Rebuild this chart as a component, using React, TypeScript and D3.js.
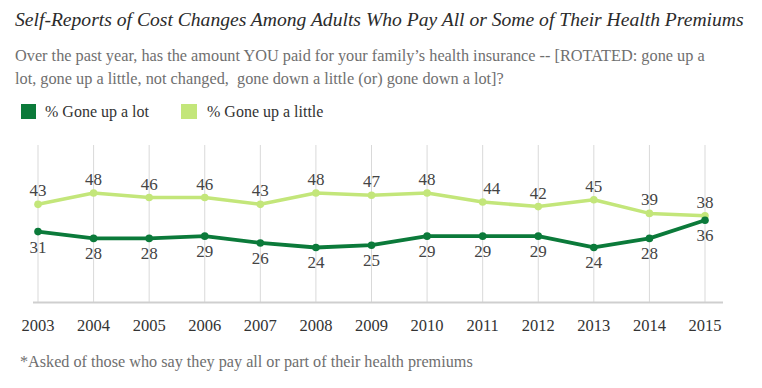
import React from "react";
import * as d3 from "d3";

const years = ["2003","2004","2005","2006","2007","2008","2009","2010","2011","2012","2013","2014","2015"];
const goneUpALot = [31,28,28,29,26,24,25,29,29,29,24,28,36];
const goneUpALittle = [43,48,46,46,43,48,47,48,44,42,45,39,38];
const seriesNames = ["% Gone up a lot", "% Gone up a little"];
const title = "Self-Reports of Cost Changes Among Adults Who Pay All or Some of Their Health Premiums";
const subtitleLines = [
  "Over the past year, has the amount YOU paid for your family\u2019s health insurance -- [ROTATED: gone up a",
  "lot, gone up a little, not changed,  gone down a little (or) gone down a lot]?",
];
const footnote = "*Asked of those who say they pay all or part of their health premiums";

const DARK = "#0b7a3a";
const LIGHT = "#c3e67a";
const F = { fontFamily: "Liberation Serif", whiteSpace: "pre" as const };

export default function App() {
  const W = 762, H = 388;
  const x = d3.scalePoint<string>().domain(years).range([38, 705]);
  const y = d3.scaleLinear().domain([0, 70]).range([302, 143]);
  const line = d3.line<number>().x((_, i) => x(years[i])!).y((d) => y(d));

  return (
    <svg width={W} height={H} style={{ position: "absolute", left: 0, top: 0, background: "#fff" }}>
      <text x={15} y={26} fontSize={19.6} style={{ ...F, fontStyle: "italic" }} fill="#2b2b2b">{title}</text>
      {subtitleLines.map((s, i) => (
        <text key={i} x={15} y={61 + i * 23} fontSize={16.3} fill="#6f6f6f" style={F}>{s}</text>
      ))}
      <rect x={21} y={104} width={15} height={15} fill={DARK} />
      <text x={45} y={117} fontSize={16} fill="#333" style={F}>{seriesNames[0]}</text>
      <rect x={181} y={104} width={16} height={15} fill={LIGHT} />
      <text x={207} y={117} fontSize={16} fill="#333" style={F}>{seriesNames[1]}</text>

      {years.map((yr) => (
        <line key={yr} x1={x(yr)} x2={x(yr)} y1={145} y2={302} stroke="#d9d9d9" strokeWidth={1} />
      ))}
      <line x1={33} x2={723} y1={302.5} y2={302.5} stroke="#cfcfcf" strokeWidth={2} />
      {years.map((yr) => (
        <text key={yr} x={x(yr)} y={331} fontSize={16.5} textAnchor="middle" fill="#333" style={F}>{yr}</text>
      ))}

      <path d={line(goneUpALittle)!} fill="none" stroke={LIGHT} strokeWidth={3.5} strokeLinejoin="round" />
      {goneUpALittle.map((v, i) => (
        <circle key={i} cx={x(years[i])} cy={y(v)} r={3.8} fill={LIGHT} />
      ))}
      <path d={line(goneUpALot)!} fill="none" stroke={DARK} strokeWidth={3.8} strokeLinejoin="round" />
      {goneUpALot.map((v, i) => (
        <circle key={i} cx={x(years[i])} cy={y(v)} r={3.8} fill={DARK} />
      ))}

      {goneUpALittle.map((v, i) => (
        <text key={i} x={x(years[i])! + (i === 8 ? 9 : 0)} y={y(v) - 8} fontSize={17} textAnchor="middle" fill="#444" style={F}>{v}</text>
      ))}
      {goneUpALot.map((v, i) => (
        <text key={i} x={x(years[i])} y={y(v) + 21} fontSize={17} textAnchor="middle" fill="#444" style={F}>{v}</text>
      ))}

      <text x={20} y={367} fontSize={16.2} fill="#6f6f6f" style={F}>{footnote}</text>
    </svg>
  );
}
